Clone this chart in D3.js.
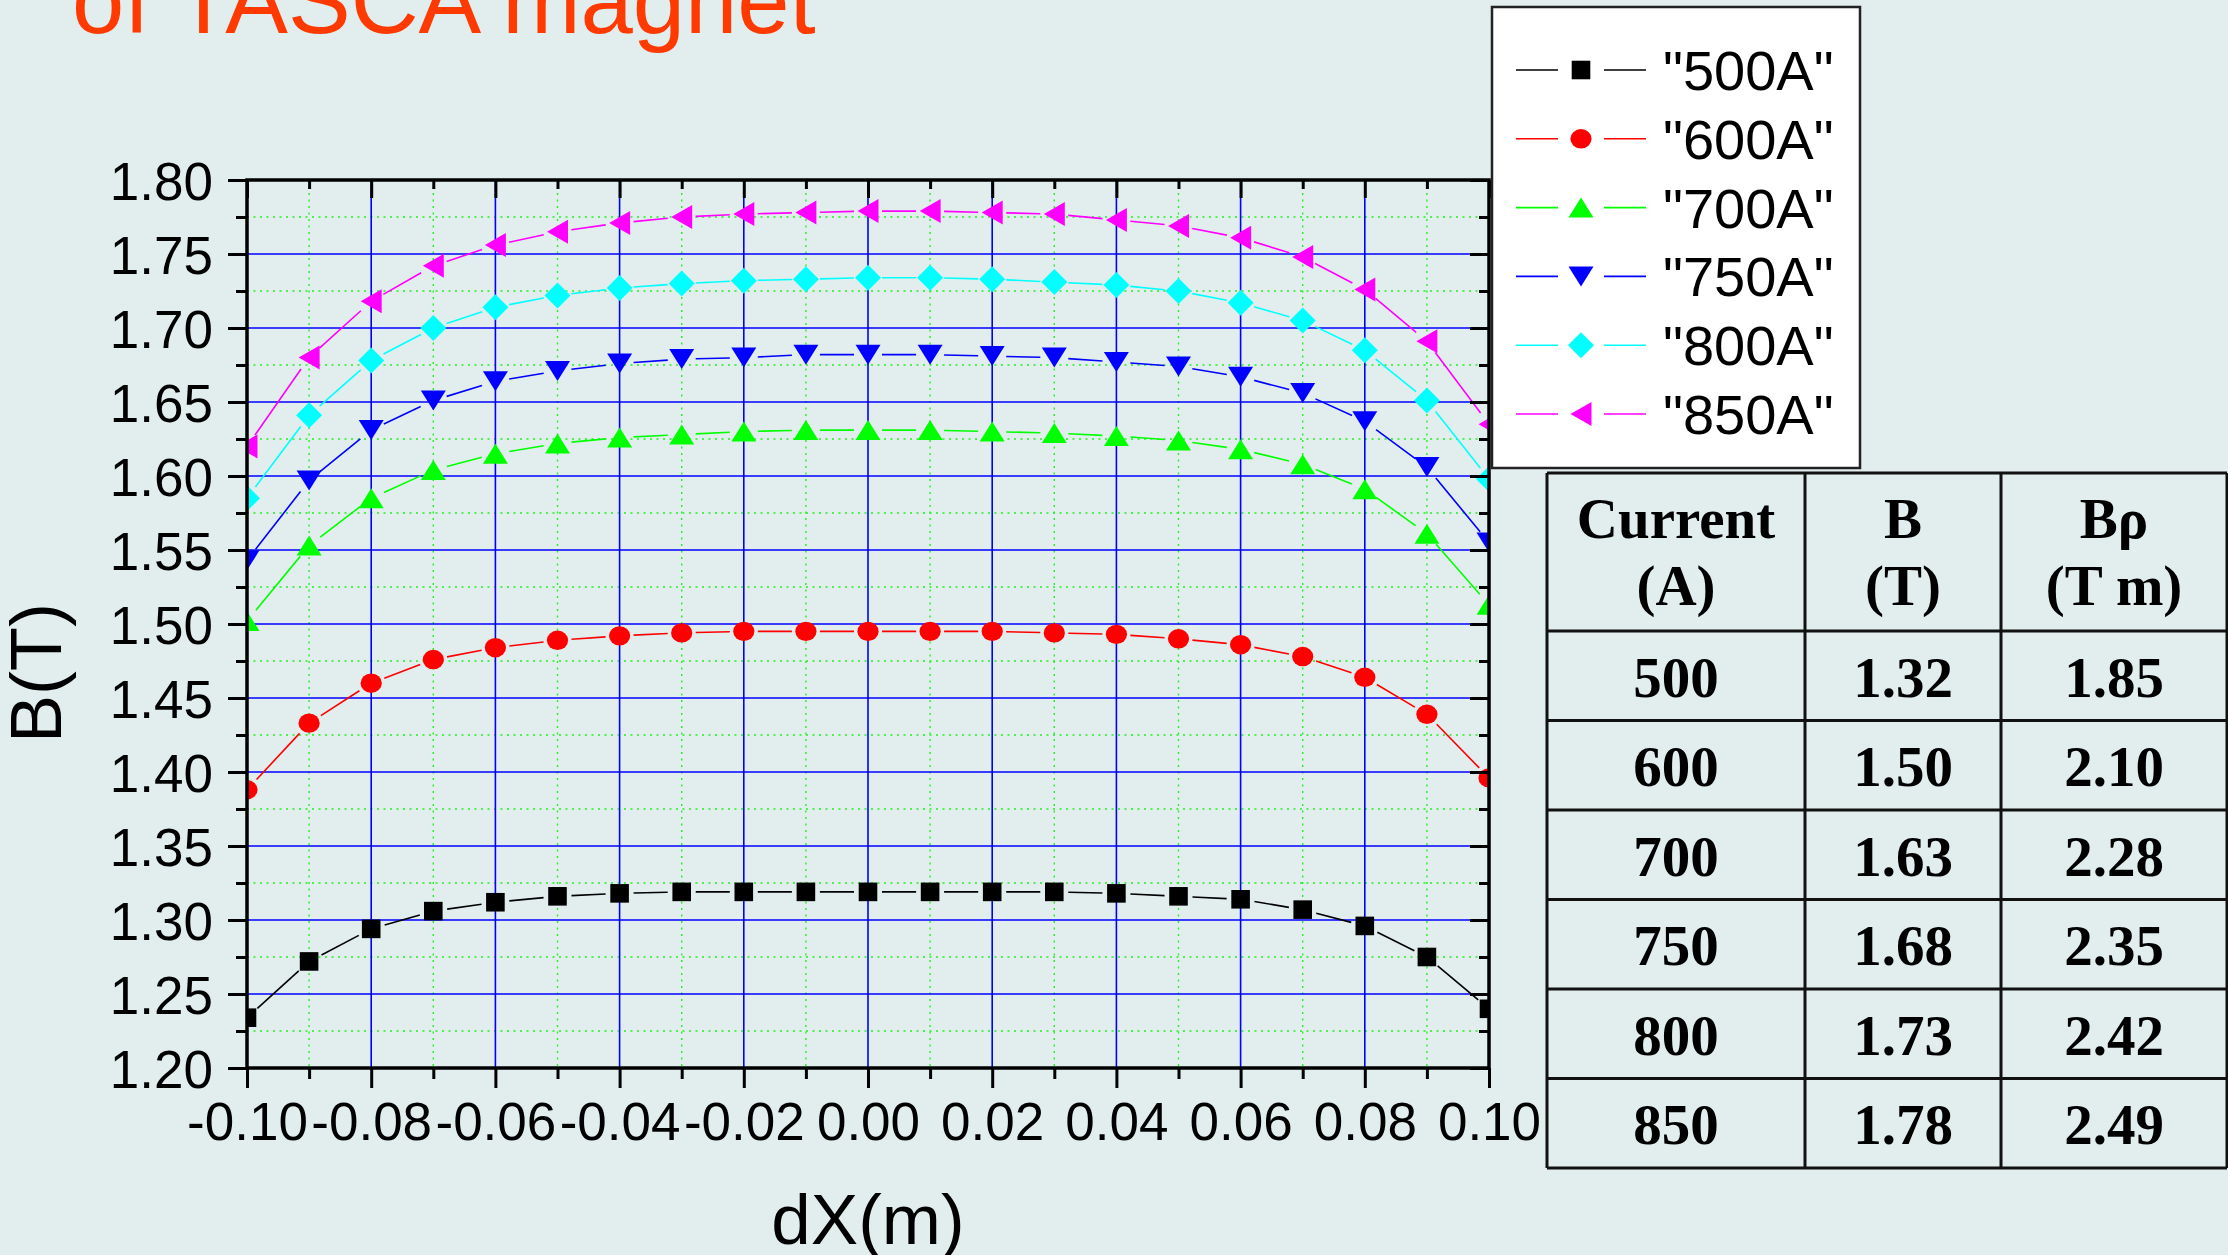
<!DOCTYPE html>
<html>
<head>
<meta charset="utf-8">
<script src="https://cdn.jsdelivr.net/npm/d3@7"></script>
<style>
  html, body { margin: 0; padding: 0; background: #e2eeee; }
  svg { display: block; }
</style>
</head>
<body>
<svg id="chart" width="2228" height="1255"></svg>
<script>
// Transverse position across the gap (m)
const dX = [-0.10, -0.09, -0.08, -0.07, -0.06, -0.05, -0.04, -0.03, -0.02, -0.01, 0.00,
             0.01,  0.02,  0.03,  0.04,  0.05,  0.06,  0.07,  0.08,  0.09, 0.10];

// Measured field B(T) for each coil current
const b500 = [1.234, 1.272, 1.294, 1.306, 1.312, 1.316, 1.318, 1.319, 1.319, 1.319, 1.319,
              1.319, 1.319, 1.319, 1.318, 1.316, 1.314, 1.307, 1.296, 1.275, 1.240];
const b600 = [1.388, 1.433, 1.460, 1.476, 1.484, 1.489, 1.492, 1.494, 1.495, 1.495, 1.495,
              1.495, 1.495, 1.494, 1.493, 1.490, 1.486, 1.478, 1.464, 1.439, 1.396];
const b700 = [1.502, 1.553, 1.585, 1.604, 1.615, 1.622, 1.626, 1.628, 1.630, 1.631, 1.631,
              1.631, 1.630, 1.629, 1.627, 1.624, 1.618, 1.608, 1.591, 1.561, 1.513];
const b750 = [1.543, 1.597, 1.631, 1.651, 1.664, 1.671, 1.676, 1.679, 1.680, 1.682, 1.682,
              1.682, 1.681, 1.680, 1.677, 1.674, 1.667, 1.656, 1.637, 1.606, 1.555];
const b800 = [1.585, 1.641, 1.678, 1.700, 1.714, 1.722, 1.727, 1.730, 1.732, 1.733, 1.734,
              1.734, 1.733, 1.731, 1.729, 1.725, 1.717, 1.705, 1.685, 1.651, 1.598];
const b850 = [1.620, 1.680, 1.718, 1.742, 1.756, 1.765, 1.771, 1.775, 1.777, 1.778, 1.779,
              1.779, 1.778, 1.777, 1.773, 1.769, 1.761, 1.748, 1.726, 1.691, 1.635];

const seriesLabels  = ['"500A"', '"600A"', '"700A"', '"750A"', '"800A"', '"850A"'];
const seriesValues  = [b500, b600, b700, b750, b800, b850];
const seriesColors  = ["#000000", "#ff0000", "#00ff00", "#0000ff", "#00ffff", "#ff00ff"];
const seriesSymbols = ["square", "circle", "triangleUp", "triangleDown", "diamond", "triangleLeft"];

// Axis ticks
const yMajorTicks = [1.20, 1.25, 1.30, 1.35, 1.40, 1.45, 1.50, 1.55, 1.60, 1.65, 1.70, 1.75, 1.80];
const yMinorTicks = [1.225, 1.275, 1.325, 1.375, 1.425, 1.475, 1.525, 1.575, 1.625, 1.675, 1.725, 1.775];
const xMajorTicks = [-0.10, -0.08, -0.06, -0.04, -0.02, 0.00, 0.02, 0.04, 0.06, 0.08, 0.10];
const xMinorTicks = [-0.09, -0.07, -0.05, -0.03, -0.01, 0.01, 0.03, 0.05, 0.07, 0.09];

// Summary table
const tableHeader  = [["Current", "(A)"], ["B", "(T)"], ["B\u03c1", "(T m)"]];
const tableCurrent = ["500", "600", "700", "750", "800", "850"];
const tableB       = ["1.32", "1.50", "1.63", "1.68", "1.73", "1.78"];
const tableBrho    = ["1.85", "2.10", "2.28", "2.35", "2.42", "2.49"];

const svg = d3.select("#chart");
const SANS = "'Liberation Sans', Arial, Helvetica, sans-serif";
const SERIF = "'Liberation Serif', 'Times New Roman', serif";

svg.append("rect").attr("width", 2228).attr("height", 1255).attr("fill", "#e2eeee");

const plot = { left: 247, right: 1489, top: 180, bottom: 1068 };
const x = d3.scaleLinear().domain([-0.10, 0.10]).range([plot.left, plot.right]);
const y = d3.scaleLinear().domain([1.20, 1.80]).range([plot.bottom, plot.top]);

// Tick labels with a plain hyphen as the minus sign
const fmt2 = v => d3.format(".2f")(v).replace("\u2212", "-");

// Title (second line of a slide heading)
svg.append("text")
  .attr("x", 72).attr("y", 33)
  .attr("font-family", SANS).attr("font-size", 94)
  .attr("fill", "#ff3a00")
  .text("of TASCA magnet");

svg.append("clipPath").attr("id", "plotClip")
  .append("rect")
  .attr("x", plot.left).attr("y", plot.top)
  .attr("width", plot.right - plot.left).attr("height", plot.bottom - plot.top);

// Grid: dotted green on minor ticks, solid blue on major ticks
const grid = svg.append("g");
grid.selectAll("line.ymin").data(yMinorTicks).join("line")
  .attr("class", "ymin")
  .attr("x1", plot.left).attr("x2", plot.right)
  .attr("y1", d => y(d)).attr("y2", d => y(d))
  .attr("stroke", "#22ee22").attr("stroke-width", 1.4).attr("stroke-dasharray", "2,4.5");
grid.selectAll("line.xmin").data(xMinorTicks).join("line")
  .attr("class", "xmin")
  .attr("y1", plot.top).attr("y2", plot.bottom)
  .attr("x1", d => x(d)).attr("x2", d => x(d))
  .attr("stroke", "#22ee22").attr("stroke-width", 1.4).attr("stroke-dasharray", "2,4.5");
grid.selectAll("line.ymaj").data(yMajorTicks.slice(1, -1)).join("line")
  .attr("class", "ymaj")
  .attr("x1", plot.left).attr("x2", plot.right)
  .attr("y1", d => y(d)).attr("y2", d => y(d))
  .attr("stroke", "#0000ff").attr("stroke-width", 1.6);
grid.selectAll("line.xmaj").data(xMajorTicks.slice(1, -1)).join("line")
  .attr("class", "xmaj")
  .attr("y1", plot.top).attr("y2", plot.bottom)
  .attr("x1", d => x(d)).attr("x2", d => x(d))
  .attr("stroke", "#0000ff").attr("stroke-width", 1.6);

// Marker shapes centred on (0,0)
function symbolPath(type) {
  switch (type) {
    case "square":       return "M-9.3,-9.3h18.6v18.6h-18.6Z";
    case "circle":       return "M-10.6,0A10.6,9.7 0 1,0 10.6,0A10.6,9.7 0 1,0 -10.6,0Z";
    case "triangleUp":   return "M0,-10L12.5,10L-12.5,10Z";
    case "triangleDown": return "M-12.5,-10L12.5,-10L0,10Z";
    case "diamond":      return "M0,-13L13,0L0,13L-13,0Z";
    case "triangleLeft": return "M-10.5,0L10.5,-12L10.5,12Z";
  }
}

// Connecting segments stop short of each symbol
function gappedSegments(pts, gap) {
  const segs = [];
  for (let i = 0; i < pts.length - 1; i++) {
    const [x1, y1] = pts[i], [x2, y2] = pts[i + 1];
    const len = Math.hypot(x2 - x1, y2 - y1);
    if (len <= 2 * gap) continue;
    const ux = (x2 - x1) / len, uy = (y2 - y1) / len;
    segs.push([x1 + ux * gap, y1 + uy * gap, x2 - ux * gap, y2 - uy * gap]);
  }
  return segs;
}

const dataLayer = svg.append("g").attr("clip-path", "url(#plotClip)");
seriesValues.forEach((vals, si) => {
  const pts = vals.map((v, i) => [x(dX[i]), y(v)]);
  const g = dataLayer.append("g");
  g.selectAll("line").data(gappedSegments(pts, 14)).join("line")
    .attr("x1", d => d[0]).attr("y1", d => d[1])
    .attr("x2", d => d[2]).attr("y2", d => d[3])
    .attr("stroke", seriesColors[si]).attr("stroke-width", 1.6);
  g.selectAll("path").data(pts).join("path")
    .attr("d", symbolPath(seriesSymbols[si]))
    .attr("transform", d => `translate(${d[0]},${d[1]})`)
    .attr("fill", seriesColors[si]);
});

// Frame
svg.append("rect")
  .attr("x", plot.left).attr("y", plot.top)
  .attr("width", plot.right - plot.left).attr("height", plot.bottom - plot.top)
  .attr("fill", "none").attr("stroke", "#000").attr("stroke-width", 3.5);

function styleAxis(g) {
  g.select(".domain").remove();
  g.selectAll(".tick line").attr("stroke", "#000").attr("stroke-width", 3);
  g.selectAll("text").attr("font-family", SANS).attr("font-size", 53).attr("fill", "#000");
}

// Left axis (outward ticks with labels)
svg.append("g").attr("transform", `translate(${plot.left},0)`)
  .call(d3.axisLeft(y).tickValues(yMajorTicks).tickSize(19).tickPadding(15).tickFormat(fmt2))
  .call(styleAxis)
  .call(g => g.selectAll("text").attr("dy", "0.36em"));
svg.append("g").attr("transform", `translate(${plot.left},0)`)
  .call(d3.axisLeft(y).tickValues(yMinorTicks).tickSize(11).tickFormat(""))
  .call(styleAxis);

// Bottom axis (outward ticks with labels)
svg.append("g").attr("transform", `translate(0,${plot.bottom})`)
  .call(d3.axisBottom(x).tickValues(xMajorTicks).tickSize(20).tickPadding(14).tickFormat(fmt2))
  .call(styleAxis);
svg.append("g").attr("transform", `translate(0,${plot.bottom})`)
  .call(d3.axisBottom(x).tickValues(xMinorTicks).tickSize(11).tickFormat(""))
  .call(styleAxis);

// Top and right axes: inward ticks, no labels
svg.append("g").attr("transform", `translate(0,${plot.top})`)
  .call(d3.axisBottom(x).tickValues(xMajorTicks).tickSize(18).tickFormat(""))
  .call(styleAxis);
svg.append("g").attr("transform", `translate(0,${plot.top})`)
  .call(d3.axisBottom(x).tickValues(xMinorTicks).tickSize(9).tickFormat(""))
  .call(styleAxis);
svg.append("g").attr("transform", `translate(${plot.right},0)`)
  .call(d3.axisLeft(y).tickValues(yMajorTicks).tickSize(19).tickFormat(""))
  .call(styleAxis);
svg.append("g").attr("transform", `translate(${plot.right},0)`)
  .call(d3.axisLeft(y).tickValues(yMinorTicks).tickSize(10).tickFormat(""))
  .call(styleAxis);

// Axis titles
svg.append("text")
  .attr("x", (plot.left + plot.right) / 2).attr("y", 1244)
  .attr("text-anchor", "middle")
  .attr("font-family", SANS).attr("font-size", 71)
  .text("dX(m)");
svg.append("text")
  .attr("transform", "translate(61,673) rotate(-90)")
  .attr("text-anchor", "middle")
  .attr("font-family", SANS).attr("font-size", 72)
  .text("B(T)");

// Legend
const legend = svg.append("g");
legend.append("rect")
  .attr("x", 1492).attr("y", 7).attr("width", 368).attr("height", 461)
  .attr("fill", "#ffffff").attr("stroke", "#222").attr("stroke-width", 2.5);
const legendRows = legend.selectAll("g.row").data(seriesLabels).join("g")
  .attr("class", "row")
  .attr("transform", (d, i) => `translate(0,${70 + i * 68.8})`);
legendRows.append("line").attr("x1", 1516).attr("x2", 1558).attr("y1", 0).attr("y2", 0)
  .attr("stroke", (d, i) => seriesColors[i]).attr("stroke-width", 1.6);
legendRows.append("line").attr("x1", 1604).attr("x2", 1646).attr("y1", 0).attr("y2", 0)
  .attr("stroke", (d, i) => seriesColors[i]).attr("stroke-width", 1.6);
legendRows.append("path")
  .attr("d", (d, i) => symbolPath(seriesSymbols[i]))
  .attr("transform", "translate(1581,0)")
  .attr("fill", (d, i) => seriesColors[i]);
legendRows.append("text")
  .attr("x", 1663).attr("y", 20)
  .attr("font-family", SANS).attr("font-size", 56).attr("fill", "#000")
  .text(d => d);

// Table of central field and magnetic rigidity
const table = svg.append("g");
const colEdges = [1547, 1805, 2001, 2227];
const rowEdges = [473, 631, 720.5, 810, 899.5, 989, 1078.5, 1168];
colEdges.forEach(cx => table.append("line")
  .attr("x1", cx).attr("x2", cx).attr("y1", rowEdges[0]).attr("y2", rowEdges[rowEdges.length - 1])
  .attr("stroke", "#111").attr("stroke-width", 3));
rowEdges.forEach(ry => table.append("line")
  .attr("x1", colEdges[0]).attr("x2", colEdges[colEdges.length - 1]).attr("y1", ry).attr("y2", ry)
  .attr("stroke", "#111").attr("stroke-width", 3));
const colCenters = colEdges.slice(0, -1).map((c, i) => (c + colEdges[i + 1]) / 2);
tableHeader.forEach((lines, ci) => {
  lines.forEach((t, li) => table.append("text")
    .attr("x", colCenters[ci]).attr("y", 538 + li * 67)
    .attr("text-anchor", "middle")
    .attr("font-family", SERIF).attr("font-weight", "bold").attr("font-size", 57)
    .text(t));
});
[tableCurrent, tableB, tableBrho].forEach((col, ci) => {
  col.forEach((t, ri) => table.append("text")
    .attr("x", colCenters[ci]).attr("y", (rowEdges[ri + 1] + rowEdges[ri + 2]) / 2 + 21)
    .attr("text-anchor", "middle")
    .attr("font-family", SERIF).attr("font-weight", "bold").attr("font-size", 57)
    .text(t));
});
</script>
</body>
</html>
